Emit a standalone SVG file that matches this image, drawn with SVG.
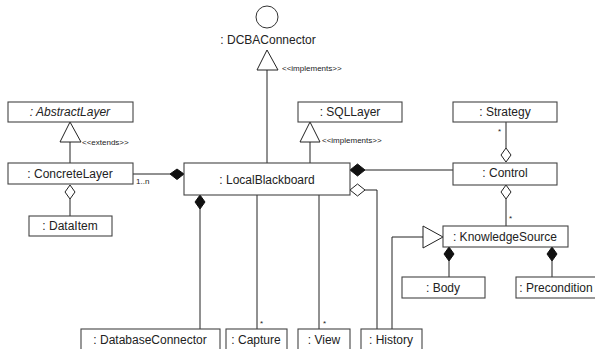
<svg xmlns="http://www.w3.org/2000/svg" width="595" height="349" viewBox="0 0 595 349">
<style>
.box{fill:#fff;stroke:#444;stroke-width:1.1}
.t{font-family:"Liberation Sans",Arial,sans-serif;font-size:12px;fill:#222;text-anchor:middle}
.s{font-family:"Liberation Sans",Arial,sans-serif;font-size:8px;fill:#222}
.ln{fill:none;stroke:#222;stroke-width:1}
.fd{fill:#111;stroke:#111;stroke-width:1}
.hd{fill:#fff;stroke:#222;stroke-width:1}
</style>
<rect width="595" height="349" fill="#fff"/>
<g id="connectors">
  <line class="ln" x1="267" y1="70" x2="267" y2="163"/>
  <polygon class="hd" points="267,50 257,70 278,70"/>
  <text class="s" x="282" y="71">&lt;&lt;implements&gt;&gt;</text>
  <line class="ln" x1="70" y1="142" x2="70" y2="163"/>
  <polygon class="hd" points="70,122 60,142 81,142"/>
  <text class="s" x="82" y="145">&lt;&lt;extends&gt;&gt;</text>
  <line class="ln" x1="310" y1="142" x2="310" y2="163"/>
  <polygon class="hd" points="310,122 300,142 320,142"/>
  <text class="s" x="322" y="143">&lt;&lt;implements&gt;&gt;</text>
  <line class="ln" x1="133" y1="174" x2="170" y2="174"/>
  <polygon class="fd" points="184,174 177,169 170,174 177,179.5"/>
  <text class="s" x="136" y="184">1..n</text>
  <line class="ln" x1="70" y1="199" x2="70" y2="216"/>
  <polygon class="hd" points="70,185 75,192 70,199 65,192"/>
  <line class="ln" x1="200" y1="209" x2="200" y2="329"/>
  <polygon class="fd" points="200,195 205,202 200,209 195,202"/>
  <line class="ln" x1="257" y1="195" x2="257" y2="329"/>
  <text class="s" x="260" y="326">*</text>
  <line class="ln" x1="319" y1="195" x2="319" y2="329"/>
  <text class="s" x="323" y="326">*</text>
  <line class="ln" x1="365" y1="170" x2="453" y2="170"/>
  <polygon class="fd" points="350,170 357.5,164 365,170 357.5,176"/>
  <polyline class="ln" points="365,190 377,190 377,329"/>
  <polygon class="hd" points="350,190 357.5,184 365,190 357.5,196"/>
  <line class="ln" x1="506" y1="122" x2="506" y2="148"/>
  <polygon class="hd" points="506,148 511,155 506,162 501,155"/>
  <text class="s" x="498" y="134">*</text>
  <line class="ln" x1="506" y1="199" x2="506" y2="226"/>
  <polygon class="hd" points="506,185 511,192 506,199 501,192"/>
  <text class="s" x="509" y="221">*</text>
  <polyline class="ln" points="392,329 392,237 423,237"/>
  <polygon class="hd" points="443,237 423,226 423,248"/>
  <line class="ln" x1="449" y1="261" x2="449" y2="277"/>
  <polygon class="fd" points="449,247 454,254 449,261 444,254"/>
  <line class="ln" x1="552" y1="261" x2="552" y2="277"/>
  <polygon class="fd" points="552,247 557,254 552,261 547,254"/>
</g>
<g id="DCBAConnector">
  <circle cx="267" cy="17" r="11" fill="#fff" stroke="#333" stroke-width="1"/>
  <text class="t" x="268" y="44">: DCBAConnector</text>
</g>
<g id="AbstractLayer">
  <rect class="box" x="8" y="102" width="125" height="20"/>
  <text class="t" x="70" y="116" font-style="italic">: AbstractLayer</text>
</g>
<g id="ConcreteLayer">
  <rect class="box" x="8" y="163" width="125" height="21"/>
  <text class="t" x="70" y="178">: ConcreteLayer</text>
</g>
<g id="DataItem">
  <rect class="box" x="29" y="216" width="83" height="20"/>
  <text class="t" x="70" y="230">: DataItem</text>
</g>
<g id="LocalBlackboard">
  <rect class="box" x="184" y="163" width="166" height="32"/>
  <text class="t" x="267" y="184">: LocalBlackboard</text>
</g>
<g id="SQLLayer">
  <rect class="box" x="298" y="102" width="104" height="20"/>
  <text class="t" x="350" y="116">: SQLLayer</text>
</g>
<g id="Strategy">
  <rect class="box" x="453" y="102" width="104" height="20"/>
  <text class="t" x="505" y="116">: Strategy</text>
</g>
<g id="Control">
  <rect class="box" x="453" y="163" width="104" height="22"/>
  <text class="t" x="505" y="177">: Control</text>
</g>
<g id="KnowledgeSource">
  <rect class="box" x="443" y="226" width="125" height="21"/>
  <text class="t" x="505" y="241">: KnowledgeSource</text>
</g>
<g id="Body">
  <rect class="box" x="402" y="277" width="83" height="21"/>
  <text class="t" x="443" y="292">: Body</text>
</g>
<g id="Precondition">
  <rect class="box" x="516" y="277" width="85" height="21"/>
  <text class="t" x="556" y="292">: Precondition</text>
</g>
<g id="DatabaseConnector">
  <rect class="box" x="81" y="329" width="139" height="30"/>
  <text class="t" x="150" y="344">: DatabaseConnector</text>
</g>
<g id="Capture">
  <rect class="box" x="226" y="329" width="61" height="30"/>
  <text class="t" x="256" y="344">: Capture</text>
</g>
<g id="View">
  <rect class="box" x="298" y="329" width="52" height="30"/>
  <text class="t" x="324" y="344">: View</text>
</g>
<g id="History">
  <rect class="box" x="361" y="329" width="61" height="30"/>
  <text class="t" x="391" y="344">: History</text>
</g>
</svg>
